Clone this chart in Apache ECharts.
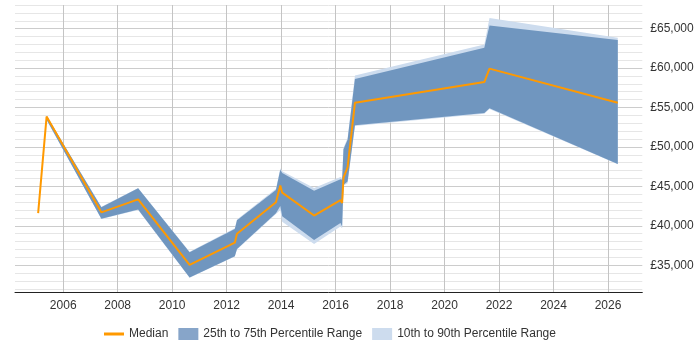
<!DOCTYPE html>
<html>
<head>
<meta charset="utf-8">
<script src="https://cdn.jsdelivr.net/npm/echarts@6/dist/echarts.min.js"></script>
<style>
  html, body { margin: 0; padding: 0; background: #fff; }
  #chart { width: 700px; height: 350px; }
</style>
</head>
<body>
<div id="chart"></div>
<script>
// sample dates as decimal years
const years = [2005.08, 2005.39, 2007.40, 2008.75, 2010.64, 2012.30, 2012.38, 2013.81, 2013.97, 2014.04,
  2015.21, 2016.18, 2016.24, 2016.29, 2016.44, 2016.71, 2021.46, 2021.65, 2026.36];
const median = [41600, 53850, 41700, 43350, 35050, 37850, 39000, 42980, 45100, 44200,
  41300, 43250, 42900, 46100, 47400, 55600, 58220, 59930, 55600];
const p25 = [null, 53450, 40900, 42050, 33450, 36150, 37050, 41600, 42500, 41200,
  38200, 40350, 39900, 45200, 45600, 52750, 54300, 54900, 47850];
const p75 = [null, 53950, 42350, 44750, 36650, 39600, 40700, 44550, 47100, 46700,
  44450, 45900, 45850, 49700, 50900, 58600, 62580, 65400, 63550];
const p10 = [null, 53450, 40850, 42000, 33400, 36100, 37000, 41500, 42000, 40500,
  37700, 39900, 39700, 45100, 45400, 52650, 54200, 54800, 47800];
const p90 = [null, 53950, 42400, 44800, 36700, 39700, 40800, 44700, 47300, 46900,
  44800, 46200, 46050, 49900, 51100, 59050, 63000, 66350, 63850];

const yearTicks = [2006, 2008, 2010, 2012, 2014, 2016, 2018, 2020, 2022, 2024, 2026];
const salaryLabels = [35000, 40000, 45000, 50000, 55000, 60000, 65000];
const salaryGrid = [32000, 33000, 34000, 35000, 36000, 37000, 38000, 39000, 40000, 41000,
  42000, 43000, 44000, 45000, 46000, 47000, 48000, 49000, 50000, 51000, 52000, 53000,
  54000, 55000, 56000, 57000, 58000, 59000, 60000, 61000, 62000, 63000, 64000, 65000,
  66000, 67000, 68000];

const DARK = "#7096bf";
const LIGHT = "#cddcee";
const ORANGE = "#ff9900";

// one polygon between lo and hi, placed with the chart's own scales
function bandSeries(name, lo, hi, color) {
  const pts = years.map((x, i) => [x, lo[i], hi[i]]).filter((d) => d[1] != null);
  return {
    name: name,
    type: "custom",
    coordinateSystem: "cartesian2d",
    data: pts,
    encode: { x: 0, y: [1, 2] },
    itemStyle: { color: color },
    renderItem: (params, api) => {
      if (params.dataIndex !== 0) return null;
      const top = pts.map((d) => api.coord([d[0], d[2]]));
      const bottom = pts.map((d) => api.coord([d[0], d[1]])).reverse();
      return {
        type: "polygon",
        shape: { points: top.concat(bottom) },
        style: { fill: color },
      };
    },
    silent: true,
  };
}

const chart = echarts.init(document.getElementById("chart"));

const textStyle = { fontFamily: "'Liberation Sans', Arial, sans-serif", fontSize: 12, color: "#333" };

chart.setOption({
  animation: false,
  textStyle: textStyle,
  grid: { left: 15, right: 57.7, top: 5, bottom: 58, containLabel: false },
  xAxis: {
    type: "value",
    min: 2004.23,
    max: 2027.26,
    axisLine: { show: true, lineStyle: { color: "#222", width: 1 } },
    axisTick: { show: false, customValues: yearTicks },
    axisLabel: { customValues: yearTicks, margin: 8, formatter: (v) => String(v), ...textStyle },
    splitLine: { show: true, lineStyle: { color: "#c4c4c4", width: 1 } },
  },
  yAxis: {
    type: "value",
    position: "right",
    min: 31600,
    max: 68000,
    axisLine: { show: false },
    axisTick: { show: false, customValues: salaryGrid },
    axisLabel: {
      customValues: salaryLabels,
      margin: 8,
      formatter: (v) => "£" + v.toLocaleString("en-GB"),
      ...textStyle,
    },
    splitLine: {
      show: true,
      lineStyle: { color: ["#e6e6e6", "#e6e6e6", "#e6e6e6", "#cccccc", "#e6e6e6"], width: 1 },
    },
  },
  legend: {
    left: 104,
    top: 328,
    padding: 0,
    itemWidth: 20,
    itemHeight: 12,
    itemGap: 10,
    textStyle: textStyle,
    data: [
      { name: "Median", icon: "path://M0,0 L20,0 L20,3 L0,3 Z", itemStyle: { color: ORANGE } },
      { name: "25th to 75th Percentile Range", icon: "rect", itemStyle: { color: "#87a5c9" } },
      { name: "10th to 90th Percentile Range", icon: "rect", itemStyle: { color: LIGHT } },
    ],
  },
  series: [
    bandSeries("10th to 90th Percentile Range", p10, p90, LIGHT),
    bandSeries("25th to 75th Percentile Range", p25, p75, DARK),
    {
      name: "Median",
      type: "line",
      data: years.map((x, i) => [x, median[i]]),
      symbol: "none",
      itemStyle: { color: ORANGE },
      lineStyle: { color: ORANGE, width: 2 },
      z: 5,
    },
  ],
});
</script>
</body>
</html>
